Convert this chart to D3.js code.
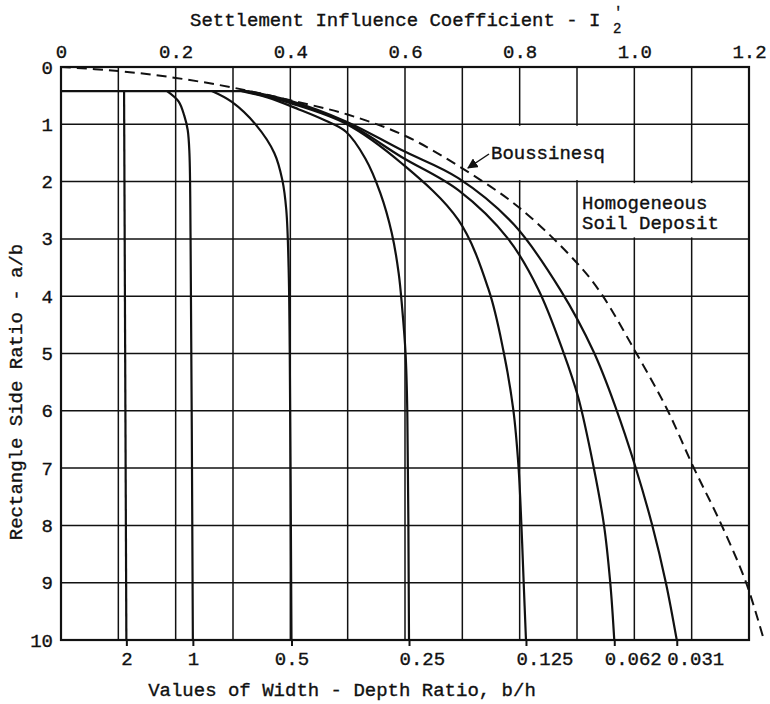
<!DOCTYPE html>
<html>
<head>
<meta charset="utf-8">
<script src="https://cdn.jsdelivr.net/npm/d3@7"></script>
<style>
  body { margin: 0; background: #fff; }
  text { font-family: "Liberation Mono", "DejaVu Sans Mono", monospace; fill: #111; stroke: #111; stroke-width: 0.35px; }
</style>
</head>
<body>
<svg id="chart" width="770" height="704"></svg>
<script>
// ---- data (I'2 coefficient, a/b ratio) ----
const coefTicks = [0, 0.2, 0.4, 0.6, 0.8, 1.0, 1.2];
const coefGrid = d3.range(0, 13).map(d => d / 10);
const ratioTicks = d3.range(0, 11);
const widthDepthLabels = ["2", "1", "0.5", "0.25", "0.125", "0.062", "0.031"];

const plateau = [[0, 0.42], [0.325, 0.42]];
const curveBh2 = [[0.110, 0.42], [0.114, 10]];
const curveBh1 = [[0.185, 0.42], [0.205, 0.6], [0.215, 0.85], [0.221, 1.1], [0.224, 1.5], [0.226, 3], [0.230, 10]];
const curveBh05 = [[0.263, 0.42], [0.298, 0.61], [0.340, 1.01], [0.372, 1.5], [0.386, 1.97], [0.393, 2.5], [0.397, 3.5], [0.399, 5], [0.402, 10]];
const curveBh025 = [[0.315, 0.42], [0.36, 0.53], [0.415, 0.74], [0.46, 0.93], [0.497, 1.13], [0.531, 1.6], [0.557, 2.2], [0.577, 2.9], [0.589, 3.6], [0.595, 4.2], [0.601, 5.0], [0.604, 6], [0.607, 10]];
const curveBh0125 = [[0.32, 0.42], [0.40, 0.63], [0.497, 0.99], [0.594, 1.68], [0.693, 2.67], [0.746, 3.89], [0.772, 4.97], [0.789, 5.99], [0.798, 6.98], [0.803, 7.99], [0.807, 9.0], [0.811, 10]];
const curveBh0062 = [[0.322, 0.42], [0.40, 0.61], [0.497, 0.97], [0.594, 1.57], [0.693, 2.15], [0.78, 3.0], [0.833, 3.89], [0.876, 4.97], [0.902, 5.76], [0.929, 6.98], [0.947, 7.99], [0.958, 9.0], [0.965, 10]];
const curveBh0031 = [[0.325, 0.42], [0.40, 0.59], [0.497, 0.95], [0.594, 1.45], [0.693, 1.94], [0.79, 2.75], [0.871, 3.89], [0.929, 4.97], [0.967, 5.93], [1.002, 6.98], [1.031, 7.99], [1.055, 9.0], [1.074, 10]];
const boussinesq = [[0, 0], [0.1, 0.07], [0.2, 0.19], [0.3, 0.36], [0.4, 0.58], [0.5, 0.83], [0.6, 1.2], [0.7, 1.77], [0.8, 2.46], [0.9, 3.42], [0.942, 3.95], [1.002, 4.97], [1.056, 5.95], [1.103, 6.98], [1.152, 7.99], [1.195, 9.0], [1.226, 10]];

const solidCurves = [curveBh2, curveBh1, curveBh05, curveBh025, curveBh0125, curveBh0062, curveBh0031];

// label boxes in the grid (no inner grid lines there)
const boxBoussinesq = [[0.7, 1], [1.0, 2]];
const boxHomogeneous = [[0.9, 2], [1.2, 3]];

// ---- chart ----
const svg = d3.select("#chart");
const x = d3.scaleLinear().domain([0, 1.2]).range([61, 749]);
const y = d3.scaleLinear().domain([0, 10]).range([67, 640]);

// Grid
const grid = svg.append("g").attr("stroke", "#111").attr("stroke-width", 1.5);
grid.selectAll(".vgrid").data(coefGrid).enter().append("line")
  .attr("x1", d => x(d)).attr("x2", d => x(d))
  .attr("y1", y(0)).attr("y2", y(10));
grid.selectAll(".hgrid").data(ratioTicks).enter().append("line")
  .attr("x1", x(0)).attr("x2", x(1.2))
  .attr("y1", d => y(d)).attr("y2", d => y(d));

// blank out inner lines of the two label boxes
[boxBoussinesq, boxHomogeneous].forEach(b => {
  svg.append("rect")
    .attr("x", x(b[0][0]) + 1.5).attr("y", y(b[0][1]) + 1.5)
    .attr("width", x(b[1][0]) - x(b[0][0]) - 3)
    .attr("height", y(b[1][1]) - y(b[0][1]) - 3)
    .attr("fill", "#fff");
});

// Border
svg.append("rect")
  .attr("x", x(0)).attr("y", y(0))
  .attr("width", x(1.2) - x(0)).attr("height", y(10) - y(0))
  .attr("fill", "none").attr("stroke", "#111").attr("stroke-width", 2.2);

// Curves
let line = d3.line()
  .x(d => x(d[0]))
  .y(d => y(d[1]))
  .curve(d3.curveCatmullRom.alpha(0.5));

svg.append("path").datum(plateau)
  .attr("d", d3.line().x(d => x(d[0])).y(d => y(d[1])))
  .attr("fill", "none").attr("stroke", "#111").attr("stroke-width", 2.2);

svg.selectAll(".curve").data(solidCurves).enter().append("path")
  .attr("class", "curve")
  .attr("d", line)
  .attr("fill", "none")
  .attr("stroke", "#111")
  .attr("stroke-width", 2.2);

svg.append("path").datum(boussinesq)
  .attr("d", line)
  .attr("fill", "none")
  .attr("stroke", "#111")
  .attr("stroke-width", 2)
  .attr("stroke-dasharray", "10,6");

// Axes
let topAxis = d3.axisTop(x)
  .tickValues(coefTicks)
  .tickSize(0)
  .tickPadding(9)
  .tickFormat(d => d === 0 ? "0" : d3.format(".1f")(d));
let gTop = svg.append("g").attr("transform", `translate(0, ${y(0)})`).call(topAxis);

let leftAxis = d3.axisLeft(y)
  .tickValues(ratioTicks)
  .tickSize(0)
  .tickPadding(8);
let gLeft = svg.append("g").attr("transform", `translate(${x(0)}, 0)`).call(leftAxis);

let endValues = solidCurves.map(c => c[c.length - 1][0]);
let bottomAxis = d3.axisBottom(x)
  .tickValues(endValues)
  .tickSize(6)
  .tickPadding(6)
  .tickFormat((d, i) => widthDepthLabels[i]);
let gBottom = svg.append("g").attr("transform", `translate(0, ${y(10)})`).call(bottomAxis);

[gTop, gLeft, gBottom].forEach(g => {
  g.select(".domain").remove();
  g.selectAll("text")
    .style("font-family", '"Liberation Mono", monospace')
    .style("font-size", "19px")
    .attr("fill", "#111");
  g.selectAll("line").attr("stroke", "#111").attr("stroke-width", 2);
});

// longer typed labels sit to the right of their tick
gBottom.selectAll("text")
  .filter(function () { return this.textContent.length > 3; })
  .attr("text-anchor", "start")
  .attr("x", -10);

// Titles
svg.append("text")
  .attr("x", 190).attr("y", 26)
  .style("font-size", "19px")
  .text("Settlement Influence Coefficient -  I");
svg.append("text").attr("x", 613).attr("y", 33).style("font-size", "14px").text("2");
svg.append("text").attr("x", 614).attr("y", 17).style("font-size", "14px").text("'");

svg.append("text")
  .attr("x", 342).attr("y", 696)
  .attr("text-anchor", "middle")
  .style("font-size", "19px")
  .text("Values of Width - Depth Ratio, b/h");

svg.append("text")
  .attr("transform", "translate(22, 392) rotate(-90)")
  .attr("text-anchor", "middle")
  .style("font-size", "19px")
  .text("Rectangle Side Ratio - a/b");

// Annotations
svg.append("defs").append("marker")
  .attr("id", "arrow")
  .attr("viewBox", "0 0 10 10")
  .attr("refX", 9).attr("refY", 5)
  .attr("markerWidth", 7).attr("markerHeight", 7)
  .attr("orient", "auto")
  .append("path").attr("d", "M0,0 L10,5 L0,10 z").attr("fill", "#111");

svg.append("line")
  .attr("x1", 489).attr("y1", 154)
  .attr("x2", 468).attr("y2", 168)
  .attr("stroke", "#111").attr("stroke-width", 1.5)
  .attr("marker-end", "url(#arrow)");

svg.append("text").attr("x", 491).attr("y", 159).style("font-size", "19px").text("Boussinesq");
svg.append("text").attr("x", 582).attr("y", 209).style("font-size", "19px").text("Homogeneous");
svg.append("text").attr("x", 582).attr("y", 229).style("font-size", "19px").text("Soil Deposit");
</script>
</body>
</html>
